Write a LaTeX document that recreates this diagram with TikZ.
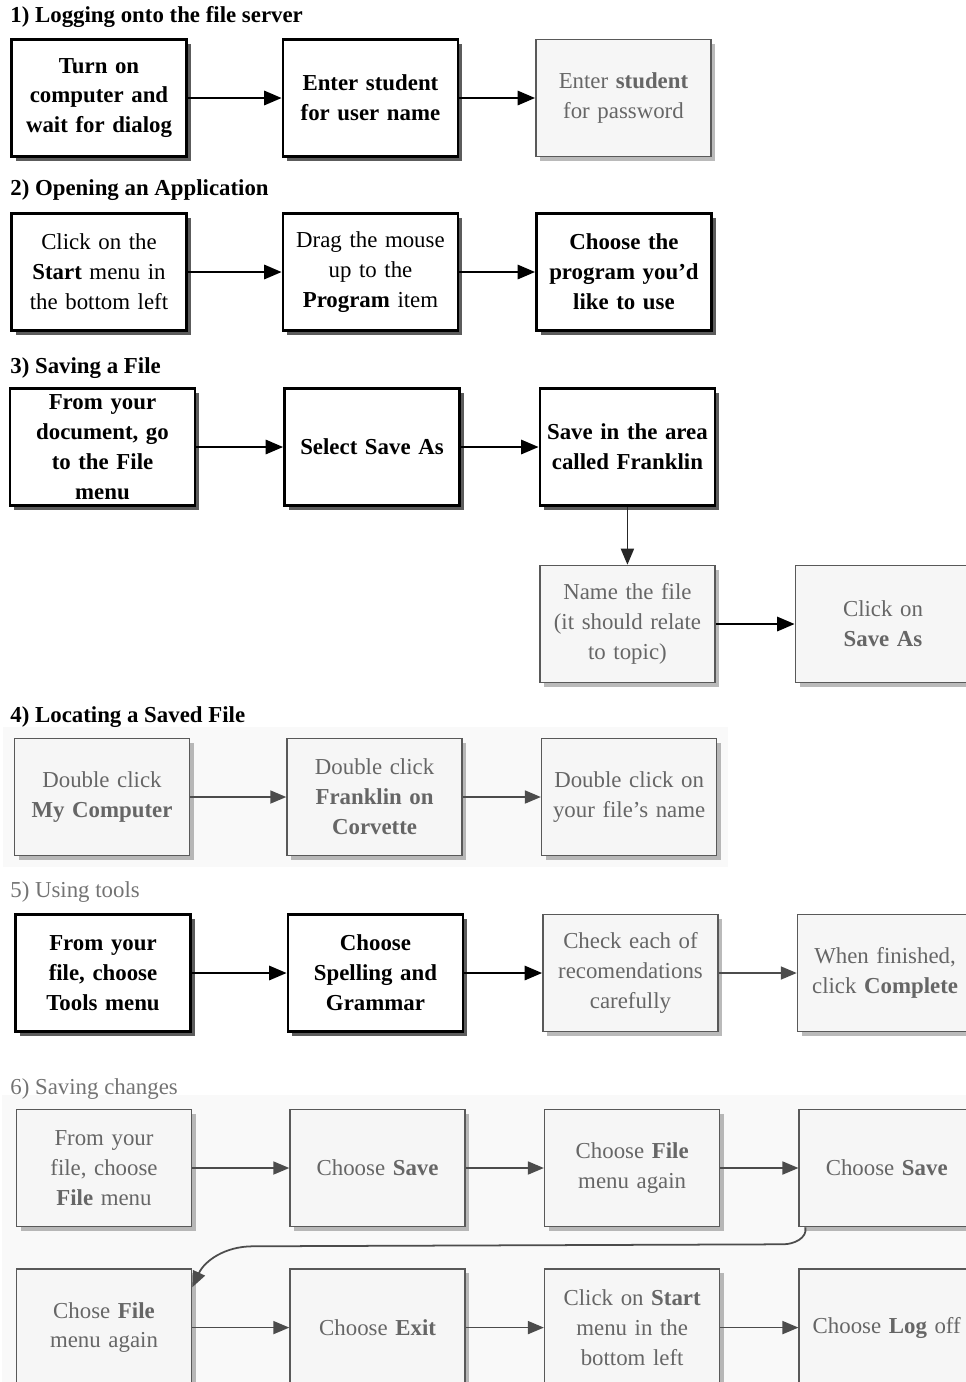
\documentclass[tikz,border=0pt]{standalone}
\usepackage{fontspec}
\setmainfont{Liberation Serif}
\usepackage{xcolor}
\usetikzlibrary{arrows.meta, positioning, shadows, fit, backgrounds}
\tikzset{
  stepbox/.style={draw, align=center, text width=3.25cm, minimum width=3.5cm,
                  minimum height=2.34cm, inner sep=1pt, font=\fontsize{13}{17}\selectfont},
  darkstep/.style={stepbox, draw=black, line width=1.4pt, fill=white, text=black,
                   drop shadow={shadow xshift=2.5pt, shadow yshift=-2.5pt, fill=black!80, opacity=0.8}},
  lightstep/.style={stepbox, draw=black!65, line width=0.9pt, fill=gray!7, text=black!60,
                    drop shadow={shadow xshift=2.5pt, shadow yshift=-2.5pt, fill=black!45, opacity=0.6}},
  flowarrow/.style={-{Triangle[length=3.5mm, width=2.8mm]}, line width=1.6pt, black},
  lightarrow/.style={-{Triangle[length=3.2mm, width=2.6mm]}, line width=1pt, black!70},
  rowlabel/.style={anchor=west, inner sep=0pt, font=\fontsize{13}{16}\selectfont},
  greylabel/.style={rowlabel, text=black!55}
}

\begin{document}
\begin{tikzpicture}[node distance=1.52cm]

\useasboundingbox (0,0) rectangle (19.32,-27.64);

% 1) Logging on
\node[rowlabel] (t1) at (0.2,-0.34) {\textbf{1) Logging onto the file server}};
\node[darkstep] (s1a) at (1.98,-1.96) {\textbf{Turn on}\\\textbf{computer and}\\\textbf{wait for dialog}};
\node[darkstep, right=1.88cm of s1a] (s1b) {\textbf{Enter student}\\\textbf{for user name}};
\node[lightstep, right=of s1b] (s1c) {Enter \textbf{student}\\for password};

% 2) Opening an application
\node[rowlabel] (t2) at (0.2,-3.8) {\textbf{2) Opening an Application}};
\node[darkstep] (s2a) at (1.98,-5.44) {Click on the\\\textbf{Start} menu in\\the bottom left};
\node[darkstep, right=1.88cm of s2a] (s2b) {Drag the mouse\\up to the\\\textbf{Program} item};
\node[darkstep, right=of s2b] (s2c) {\textbf{Choose the}\\\textbf{program you'd}\\\textbf{like to use}};

% 3) Saving a file
\node[rowlabel] (t3) at (0.2,-7.36) {\textbf{3) Saving a File}};
\node[darkstep, minimum width=3.7cm] (s3a) at (2.05,-8.94) {\textbf{From your}\\\textbf{document, go}\\\textbf{to the File}\\\textbf{menu}};
\node[darkstep, right=1.74cm of s3a] (s3b) {\textbf{Select Save As}};
\node[darkstep, right=1.56cm of s3b] (s3c) {\textbf{Save in the area}\\\textbf{called Franklin}};
\node[lightstep, below=1.16cm of s3c] (s3d) {Name the file\\(it should relate\\to topic)};
\node[lightstep, right=1.58cm of s3d] (s3e) {Click on\\\textbf{Save As}};

% 4) Locating a saved file
\node[rowlabel] (t4) at (0.2,-14.34) {\textbf{4) Locating a Saved File}};
\node[lightstep] (s4a) at (2.04,-15.94) {Double click\\\textbf{My Computer}};
\node[lightstep, right=1.92cm of s4a] (s4b) {Double click\\\textbf{Franklin on}\\\textbf{Corvette}};
\node[lightstep, right=1.56cm of s4b] (s4c) {Double click on\\your file's name};

% 5) Using tools
\node[greylabel] (t5) at (0.2,-17.84) {5) Using tools};
\node[darkstep] (s5a) at (2.06,-19.46) {\textbf{From your}\\\textbf{file, choose}\\\textbf{Tools menu}};
\node[darkstep, right=1.9cm of s5a] (s5b) {\textbf{Choose}\\\textbf{Spelling and}\\\textbf{Grammar}};
\node[lightstep, right=1.56cm of s5b] (s5c) {Check each of\\recomendations\\carefully};
\node[lightstep, right=1.56cm of s5c] (s5d) {When finished,\\click \textbf{Complete}};

% 6) Saving changes
\node[greylabel] (t6) at (0.2,-21.78) {6) Saving changes};
\node[lightstep] (s6a) at (2.08,-23.36) {From your\\file, choose\\\textbf{File} menu};
\node[lightstep, right=1.94cm of s6a] (s6b) {Choose \textbf{Save}};
\node[lightstep, right=1.56cm of s6b] (s6c) {Choose \textbf{File}\\menu again};
\node[lightstep, right=1.56cm of s6c] (s6d) {Choose \textbf{Save}};
\node[lightstep, below=0.82cm of s6a] (s7a) {Chose \textbf{File}\\menu again};
\node[lightstep, right=1.94cm of s7a] (s7b) {Choose \textbf{Exit}};
\node[lightstep, right=1.56cm of s7b] (s7c) {Click on \textbf{Start}\\menu in the\\bottom left};
\node[lightstep, right=1.56cm of s7c] (s7d) {Choose \textbf{Log} off};

% Arrows
\draw[flowarrow] (s1a) -- (s1b);
\draw[flowarrow] (s1b) -- (s1c);
\draw[flowarrow] (s2a) -- (s2b);
\draw[flowarrow] (s2b) -- (s2c);
\draw[flowarrow] (s3a) -- (s3b);
\draw[flowarrow] (s3b) -- (s3c);
\draw[lightarrow, black!85] (s3c) -- (s3d);
\draw[flowarrow] (s3d) -- (s3e);
\draw[lightarrow] (s4a) -- (s4b);
\draw[lightarrow] (s4b) -- (s4c);
\draw[flowarrow] (s5a) -- (s5b);
\draw[flowarrow] (s5b) -- (s5c);
\draw[lightarrow] (s5c) -- (s5d);
\draw[lightarrow] (s6a) -- (s6b);
\draw[lightarrow] (s6b) -- (s6c);
\draw[lightarrow] (s6c) -- (s6d);
\draw[lightarrow] ([xshift=4pt]s6d.south west) to[out=-80, in=0] ++(-0.45,-0.34)
  -- ++(-10.6,-0.04) to[out=180, in=65] ([yshift=-0.38cm]s7a.north east);
\draw[lightarrow] (s7a) -- (s7b);
\draw[lightarrow] (s7b) -- (s7c);
\draw[lightarrow] (s7c) -- (s7d);

% Background
\begin{scope}[on background layer]
  \node[fill=gray!5, inner sep=6pt, fit=(s4a)(s4c)] {};
  \node[fill=gray!5, inner sep=8pt, fit=(s6a)(s7d)] {};
\end{scope}

\end{tikzpicture}
\end{document}
